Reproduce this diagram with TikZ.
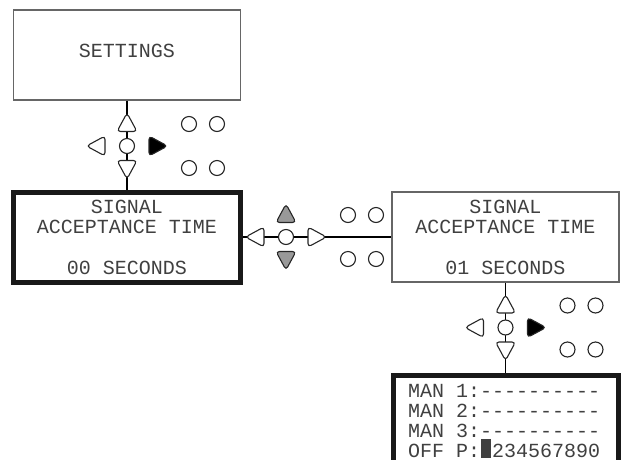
\documentclass[tikz,border=0pt]{standalone}
\usepackage{fontspec}
\setmonofont{Liberation Mono}
\newcommand{\lcdfont}{\ttfamily\fontsize{20}{20.3}\selectfont}
% one rounded key triangle: base centre, rotation, extra style
\newcommand{\keytri}[3]{%
  \draw[keyline, rounded corners=3.5pt, #3, shift={(#1)}, rotate=#2] (-10,0) -- (10,0) -- (0,18.5) -- cycle;}
% keypad: centre, up/down style, left style, right style
\newcommand{\keypad}[4]{%
  \begin{scope}[shift={(#1)}]
    \keytri{0,-14.5}{180}{#2}
    \keytri{0,14.5}{0}{#2}
    \keytri{-22,0}{-90}{#3}
    \keytri{22,0}{90}{#4}
    \draw[keyline] (0,0) circle[radius=7.5];
    \foreach \kx in {62,90}
      \foreach \ky in {-22,22}
        \draw[keyline] (\kx,\ky) circle[radius=7.5];
  \end{scope}}
\begin{document}
\begin{tikzpicture}[x=1pt, y=-1pt,
  screen/.style={draw=black!60, line width=1.3pt, minimum width=227pt, minimum height=90pt,
    inner sep=0pt, align=center, font=\lcdfont, text=black!75},
  active/.style={screen, draw=black!90, line width=5pt},
  wire/.style={draw=black, line width=1.2pt},
  keyline/.style={draw=black!85, line width=1.1pt, fill=white},
  pressed/.style={fill=black},
  scrolled/.style={fill=black!40}]
  \useasboundingbox (0,0) rectangle (624,459);
  \clip (0,0) rectangle (624,459);

  \node[screen, text depth=8pt] (settings) at (127,55) {SETTINGS};
  \node[active] (signalA) at (127,237) {SIGNAL\\ACCEPTANCE TIME\\[20.3pt]00 SECONDS};
  \node[screen] (signalB) at (505.5,237) {SIGNAL\\ACCEPTANCE TIME\\[20.3pt]01 SECONDS};
  \node[active, anchor=north, minimum width=225pt, minimum height=120pt] (manual) at (505.5,372.5) {};
  \node[font=\ttfamily\fontsize{20}{20}\selectfont, text=black!75, align=left, anchor=north west, inner sep=0pt] (manualtext) at (408,384)
    {MAN 1:----------\\MAN 2:----------\\MAN 3:----------\\OFF P:\makebox[0.6em]{\rule[-0.5pt]{10.5pt}{19pt}}234567890};

  % connectors
  \draw[wire] (settings.south) -- (signalA.north);
  \draw[wire] (signalA.east) -- (signalB.west);
  \draw[wire] (signalB.south) -- (manual.north);

  % keypads
  \keypad{127,146}{}{}{pressed}
  \keypad{286,237}{scrolled}{}{}
  \keypad{505.5,327.5}{}{}{pressed}
\end{tikzpicture}
\end{document}
